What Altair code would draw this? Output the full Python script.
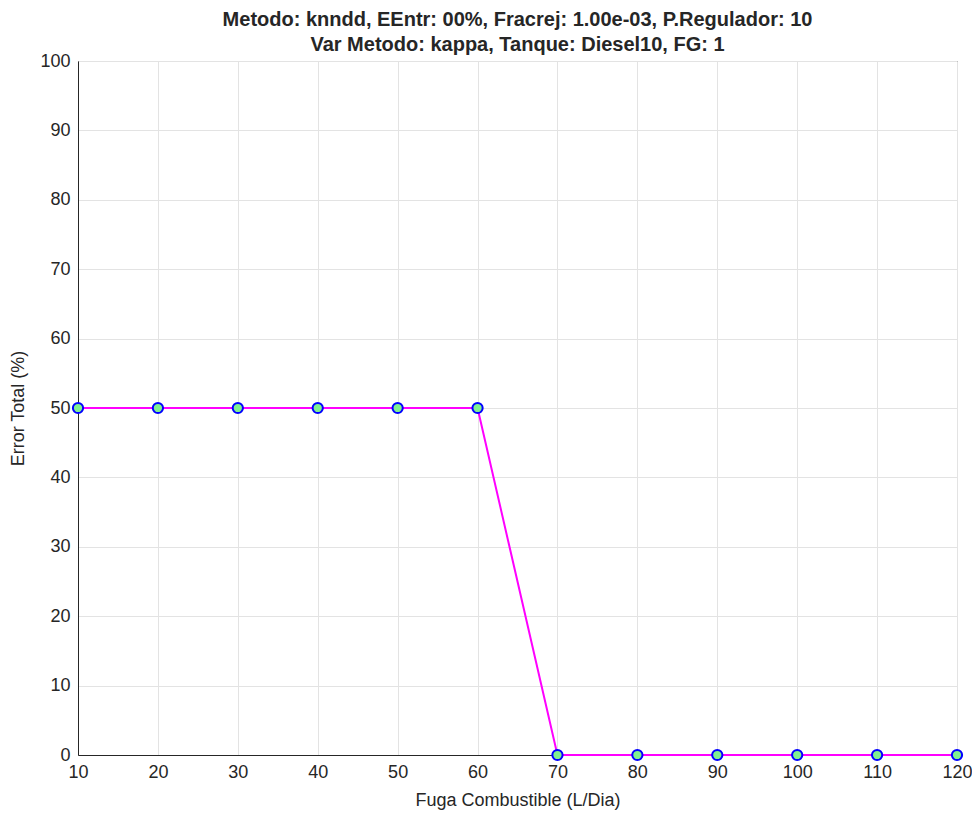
import altair as alt
import pandas as pd

fuga = [10, 20, 30, 40, 50, 60, 70, 80, 90, 100, 110, 120]
error_total = [50, 50, 50, 50, 50, 50, 0, 0, 0, 0, 0, 0]
x_ticks = [10, 20, 30, 40, 50, 60, 70, 80, 90, 100, 110, 120]
y_ticks = [0, 10, 20, 30, 40, 50, 60, 70, 80, 90, 100]

df = pd.DataFrame({"fuga": fuga, "error": error_total})

FONT = "Liberation Sans"
AXIS_COLOR = "#262626"

x = alt.X("fuga:Q", title="Fuga Combustible (L/Dia)",
          scale=alt.Scale(domain=[10, 120], nice=False),
          axis=alt.Axis(values=x_ticks, format="d", labelPadding=8, titlePadding=10,
                        labelFlush=False, labelOverlap=False))
y = alt.Y("error:Q", title="Error Total (%)",
          scale=alt.Scale(domain=[0, 100], nice=False),
          axis=alt.Axis(values=y_ticks, format="d", labelPadding=8, titlePadding=12,
                        labelFlush=False, labelOverlap=False))

line = alt.Chart(df).mark_line(color="#ff00ff", strokeWidth=2).encode(x=x, y=y)
pts = alt.Chart(df).mark_point(shape="circle", filled=True, fill="#80f090",
                                stroke="#0000ff", strokeWidth=2, size=105, opacity=1).encode(x=x, y=y)

chart = (line + pts).properties(
    width=879, height=694,
    background="white",
    title=alt.TitleParams(
        text=["Metodo: knndd, EEntr: 00%, Fracrej: 1.00e-03, P.Regulador: 10",
              "Var Metodo: kappa, Tanque: Diesel10, FG: 1"],
        font=FONT, fontSize=20, fontWeight="bold", color="#262626",
        anchor="middle", lineHeight=25, offset=-3),
    autosize=alt.AutoSizeParams(type="none"),
    padding={"left": 70, "top": 53, "right": 15, "bottom": 60},
).configure_view(
    stroke=AXIS_COLOR, strokeWidth=1
).configure_axis(
    labelFont=FONT, titleFont=FONT, labelFontSize=18, titleFontSize=18,
    labelColor=AXIS_COLOR, titleColor=AXIS_COLOR, titleFontWeight="normal",
    domainColor=AXIS_COLOR, ticks=False, gridColor="#e3e3e3", gridWidth=1,
)

chart.save("out.html", embed_options={"renderer": "svg", "actions": False})
